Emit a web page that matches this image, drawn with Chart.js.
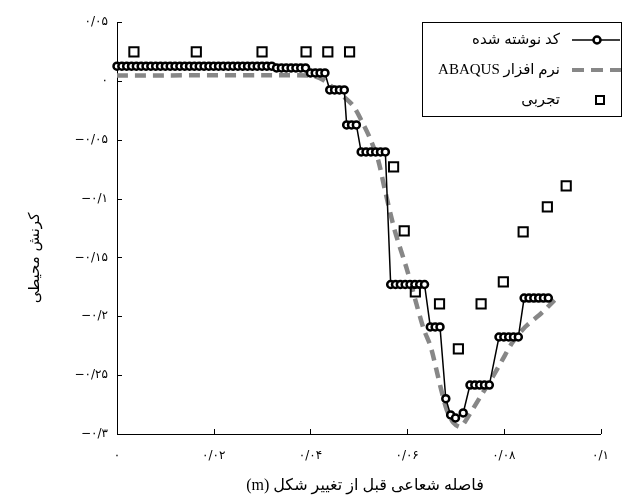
<!DOCTYPE html>
<html>
<head>
<meta charset="utf-8">
<script src="https://cdn.jsdelivr.net/npm/chart.js@4.4.0/dist/chart.umd.min.js"></script>
<style>
    html, body { margin: 0; padding: 0; background: #fff; }
    #strainChart { display: block; }
</style>
</head>
<body>
<canvas id="strainChart" width="624" height="497"></canvas>
<script>
// tick labels (Persian digits)
const xTickLabels = ['۰', '۰/۰۲', '۰/۰۴', '۰/۰۶', '۰/۰۸', '۰/۱'];
const yTickLabels = ['−۰/۳', '−۰/۲۵', '−۰/۲', '−۰/۱۵', '−۰/۱', '−۰/۰۵', '۰', '۰/۰۵'];

const seriesNames = ['کد نوشته شده', 'نرم افزار ABAQUS', 'تجربی'];

// written code (step-like, dense markers)
const codeX = [
    0, 0.001, 0.002, 0.003, 0.004, 0.005, 0.006, 0.007, 0.008, 0.009, 0.010,
    0.011, 0.012, 0.013, 0.014, 0.015, 0.016, 0.017, 0.018, 0.019, 0.020,
    0.021, 0.022, 0.023, 0.024, 0.025, 0.026, 0.027, 0.028, 0.029, 0.030,
    0.031, 0.032,
    0.033, 0.034, 0.035, 0.036, 0.037, 0.038, 0.039,
    0.040, 0.041, 0.042, 0.043,
    0.044, 0.045, 0.046, 0.047,
    0.0475, 0.0485, 0.0495,
    0.0505, 0.0515, 0.0525, 0.0535, 0.0545, 0.0555,
    0.0566, 0.0576, 0.0586, 0.0596, 0.0606, 0.0616, 0.0626, 0.0636,
    0.0648, 0.0658, 0.0668,
    0.0680, 0.0690, 0.0700, 0.0716,
    0.0730, 0.0740, 0.0750, 0.0760, 0.0770,
    0.0790, 0.0800, 0.0810, 0.0820, 0.0830,
    0.0842, 0.0852, 0.0862, 0.0872, 0.0882, 0.0892
];
const codeY = [
    0.0125, 0.0125, 0.0125, 0.0125, 0.0125, 0.0125, 0.0125, 0.0125, 0.0125, 0.0125, 0.0125,
    0.0125, 0.0125, 0.0125, 0.0125, 0.0125, 0.0125, 0.0125, 0.0125, 0.0125, 0.0125,
    0.0125, 0.0125, 0.0125, 0.0125, 0.0125, 0.0125, 0.0125, 0.0125, 0.0125, 0.0125,
    0.0125, 0.0125,
    0.011, 0.011, 0.011, 0.011, 0.011, 0.011, 0.011,
    0.0067, 0.0067, 0.0067, 0.0067,
    -0.0077, -0.0077, -0.0077, -0.0077,
    -0.0374, -0.0374, -0.0374,
    -0.0604, -0.0604, -0.0604, -0.0604, -0.0604, -0.0604,
    -0.173, -0.173, -0.173, -0.173, -0.173, -0.173, -0.173, -0.173,
    -0.209, -0.209, -0.209,
    -0.270, -0.2838, -0.2864, -0.2821,
    -0.2584, -0.2584, -0.2584, -0.2584, -0.2584,
    -0.2176, -0.2176, -0.2176, -0.2176, -0.2176,
    -0.1845, -0.1845, -0.1845, -0.1845, -0.1845, -0.1845
];

// ABAQUS
const abaqusX = [0, 0.040, 0.0426, 0.0452, 0.0487, 0.0507, 0.0523, 0.0540, 0.0554, 0.0574,
    0.0600, 0.0621, 0.0635, 0.0649, 0.0669, 0.0682, 0.0696, 0.0710, 0.0722, 0.0751,
    0.0777, 0.0797, 0.0817, 0.0844, 0.0878, 0.0905];
const abaqusY = [0.0045, 0.0045, 0.001, -0.0077, -0.0205, -0.0349, -0.0485, -0.0671, -0.0926, -0.1266,
    -0.1607, -0.1921, -0.2117, -0.2261, -0.26, -0.2796, -0.2906, -0.294, -0.2881, -0.2686,
    -0.2515, -0.2371, -0.2227, -0.2091, -0.1972, -0.1862];

// experimental
const expX = [0.0035, 0.0164, 0.0300, 0.0391, 0.0436, 0.0481, 0.0572, 0.0594, 0.0617, 0.0667,
    0.0706, 0.0753, 0.0799, 0.0840, 0.0890, 0.0929];
const expY = [0.0246, 0.0246, 0.0246, 0.0246, 0.0246, 0.0246, -0.0731, -0.1275, -0.1792, -0.1895,
    -0.2277, -0.1895, -0.1708, -0.1283, -0.1071, -0.0892];

const toPoints = (xs, ys) => xs.map((x, i) => ({ x, y: ys[i] }));

const ARABIC_FONT = '"DejaVu Sans"';
const LEGEND_FONT = '15px "Liberation Serif", "DejaVu Sans"';
const GREY = '#878787';

const extrasPlugin = {
    id: 'extras',
    afterDraw(chart) {
        const { ctx, chartArea, scales } = chart;
        const xs = scales.x, ys = scales.y;
        ctx.save();

        // inward tick marks
        ctx.strokeStyle = '#000';
        ctx.lineWidth = 1;
        ctx.beginPath();
        ys.ticks.forEach(t => {
            const py = Math.round(ys.getPixelForValue(t.value)) + 0.5;
            ctx.moveTo(chartArea.left, py);
            ctx.lineTo(chartArea.left + 5, py);
        });
        xs.ticks.forEach(t => {
            const px = Math.round(xs.getPixelForValue(t.value)) + 0.5;
            ctx.moveTo(px, chartArea.bottom);
            ctx.lineTo(px, chartArea.bottom - 5);
        });
        ctx.stroke();

        // axis titles
        ctx.fillStyle = '#000';
        ctx.direction = 'rtl';
        ctx.textAlign = 'center';
        ctx.textBaseline = 'middle';
        ctx.font = '16px "Liberation Serif", ' + ARABIC_FONT;
        ctx.fillText('فاصله شعاعی قبل از تغییر شکل (m)', 365, 486);

        ctx.font = '15px ' + ARABIC_FONT;
        ctx.save();
        ctx.translate(35, 258);
        ctx.rotate(-Math.PI / 2);
        ctx.fillText('کرنش محیطی', 0, 0);
        ctx.restore();

        // legend box
        const bx = 422.5, by = 22.5, bw = 199, bh = 94;
        ctx.fillStyle = '#fff';
        ctx.fillRect(bx, by, bw, bh);
        ctx.strokeStyle = '#000';
        ctx.lineWidth = 1;
        ctx.strokeRect(bx, by, bw, bh);

        const rows = [40, 70, 100];
        ctx.font = LEGEND_FONT;
        ctx.fillStyle = '#000';
        ctx.textAlign = 'right';
        seriesNames.forEach((name, i) => {
            ctx.fillText(name, 560, rows[i]);
        });
        ctx.direction = 'ltr';

        // row 1: line + circle
        ctx.strokeStyle = '#000';
        ctx.lineWidth = 1.5;
        ctx.beginPath();
        ctx.moveTo(572, rows[0]);
        ctx.lineTo(620, rows[0]);
        ctx.stroke();
        ctx.lineWidth = 2.5;
        ctx.fillStyle = '#fff';
        ctx.beginPath();
        ctx.arc(597, rows[0], 3.5, 0, Math.PI * 2);
        ctx.fill();
        ctx.stroke();

        // row 2: grey dashes
        ctx.strokeStyle = GREY;
        ctx.lineWidth = 4;
        ctx.setLineDash([12, 7]);
        ctx.beginPath();
        ctx.moveTo(572, rows[1]);
        ctx.lineTo(621, rows[1]);
        ctx.stroke();
        ctx.setLineDash([]);

        // row 3: square
        ctx.strokeStyle = '#000';
        ctx.lineWidth = 2;
        ctx.strokeRect(596, rows[2] - 4, 8, 8);

        ctx.restore();
    }
};

const whiteBg = {
    id: 'whiteBg',
    beforeDraw(chart) {
        const ctx = chart.ctx;
        ctx.save();
        ctx.fillStyle = '#fff';
        ctx.fillRect(0, 0, chart.width, chart.height);
        ctx.restore();
    }
};

new Chart(document.getElementById('strainChart'), {
    type: 'scatter',
    data: {
        datasets: [
            {
                label: seriesNames[2],
                data: toPoints(expX, expY),
                pointStyle: 'rect',
                pointRadius: 6.5,
                pointBorderWidth: 2,
                borderColor: '#000',
                backgroundColor: 'rgba(0,0,0,0)',
                showLine: false,
                clip: false,
                order: 0
            },
            {
                label: seriesNames[0],
                data: toPoints(codeX, codeY),
                showLine: true,
                borderColor: '#000',
                borderWidth: 1.5,
                pointRadius: 3.5,
                pointBorderWidth: 2.5,
                pointBorderColor: '#000',
                pointBackgroundColor: '#fff',
                tension: 0,
                clip: false,
                order: 1
            },
            {
                label: seriesNames[1],
                data: toPoints(abaqusX, abaqusY),
                showLine: true,
                borderColor: GREY,
                borderWidth: 4.5,
                borderDash: [11, 7],
                pointRadius: 0,
                tension: 0.25,
                clip: false,
                order: 2
            }
        ]
    },
    options: {
        responsive: false,
        animation: false,
        events: [],
        layout: { padding: { top: 22, right: 14, left: 0, bottom: 0 } },
        plugins: {
            legend: { display: false },
            tooltip: { enabled: false }
        },
        scales: {
            x: {
                type: 'linear',
                min: 0,
                max: 0.1,
                afterFit: s => { s.height = 63; },
                border: { display: true, color: '#000', width: 1 },
                grid: { drawOnChartArea: false, drawTicks: false },
                ticks: {
                    stepSize: 0.02,
                    padding: 15,
                    color: '#000',
                    font: { family: ARABIC_FONT, size: 12 },
                    maxRotation: 0,
                    callback: (v, i) => xTickLabels[i]
                }
            },
            y: {
                type: 'linear',
                min: -0.3,
                max: 0.05,
                afterFit: s => { s.width = 117; },
                border: { display: true, color: '#000', width: 1 },
                grid: { drawOnChartArea: false, drawTicks: false },
                ticks: {
                    stepSize: 0.05,
                    padding: 9,
                    color: '#000',
                    font: { family: ARABIC_FONT, size: 12 },
                    callback: (v, i) => yTickLabels[i]
                }
            }
        }
    },
    plugins: [whiteBg, extrasPlugin]
});
</script>
</body>
</html>
